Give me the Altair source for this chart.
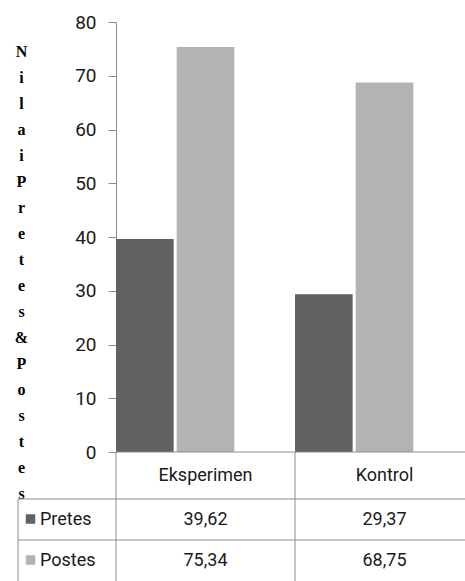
import altair as alt
import pandas as pd

categories = ["Eksperimen", "Kontrol"]
series = ["Pretes", "Postes"]
pretes = [39.62, 29.37]
postes = [75.34, 68.75]
colors = ["#616161", "#b3b3b3"]
y_ticks = [0, 10, 20, 30, 40, 50, 60, 70, 80]
y_title = list("NilaiPretes&Postes")

rows = []
for s, vals in zip(series, [pretes, postes]):
    for c, v in zip(categories, vals):
        rows.append({"cat": c, "series": s, "value": v,
                     "label": f"{v:.2f}".replace(".", ",")})
df = pd.DataFrame(rows)
cat_df = pd.DataFrame({"cat": categories})
one = pd.DataFrame({"a": [0]})

FONT = "Roboto"
FS = 18
LINE = "#8c8c8c"
TXT = "#1a1a1a"
W, H = 349, 430

xscale = alt.Scale(domain=categories, range=[0, 358], paddingInner=0, paddingOuter=0)
cscale = alt.Scale(domain=series, range=colors)

bars = alt.Chart(df).mark_bar().encode(
    x=alt.X("cat:N", scale=xscale, axis=None),
    xOffset=alt.XOffset("series:N", scale=alt.Scale(domain=series + [" "], paddingInner=0.05, paddingOuter=0)),
    y=alt.Y("value:Q", scale=alt.Scale(domain=[0, 80], nice=False),
            axis=alt.Axis(values=y_ticks, grid=False, domainColor=LINE, tickColor=LINE,
                          tickSize=8, labelFont=FONT, labelFontSize=19, labelColor=TXT,
                          labelPadding=12, title=y_title, titleAngle=0, titleAlign="center",
                          titleBaseline="top", titleX=-95, titleY=21,
                          titleFont="Liberation Serif", titleFontWeight="bold",
                          titleFontSize=16, titleLineHeight=26, titleColor="#000000")),
    color=alt.Color("series:N", scale=cscale, legend=None),
)

baseline = alt.Chart(one).mark_rule(color=LINE).encode(
    x=alt.value(0), x2=alt.value(W), y=alt.value(H))

vlines = alt.Chart(cat_df).mark_rule(color=LINE).encode(
    x=alt.X("cat:N", scale=xscale, bandPosition=0, axis=None),
    y=alt.value(H), y2=alt.value(H + 129))

hline1 = alt.Chart(one).mark_rule(color=LINE).encode(
    x=alt.value(-98), x2=alt.value(W), y=alt.value(477))
hline2 = alt.Chart(one).mark_rule(color=LINE).encode(
    x=alt.value(-98), x2=alt.value(W), y=alt.value(518))
lline = alt.Chart(one).mark_rule(color=LINE).encode(
    x=alt.value(-98), y=alt.value(477), y2=alt.value(H + 129))

header = alt.Chart(cat_df).mark_text(font=FONT, fontSize=FS, baseline="middle", color=TXT).encode(
    x=alt.X("cat:N", scale=xscale, axis=None), text="cat:N", y=alt.value(453.5))

row_y = {"Pretes": 498, "Postes": 539}
val_layers = []
leg_layers = []
for s in series:
    sub = df[df["series"] == s]
    val_layers.append(
        alt.Chart(sub).mark_text(font=FONT, fontSize=FS, baseline="middle", color=TXT).encode(
            x=alt.X("cat:N", scale=xscale, axis=None), text="label:N", y=alt.value(row_y[s])))
    sd = pd.DataFrame({"series": [s]})
    leg_layers.append(
        alt.Chart(sd).mark_square(size=90, opacity=1).encode(
            x=alt.value(-85.5), y=alt.value(row_y[s] - 1),
            color=alt.Color("series:N", scale=cscale, legend=None)))
    leg_layers.append(
        alt.Chart(sd).mark_text(font=FONT, fontSize=FS, baseline="middle", align="left", color=TXT).encode(
            x=alt.value(-76), y=alt.value(row_y[s]), text="series:N"))

chart = alt.layer(bars, baseline, vlines, hline1, hline2, lline, header, *val_layers, *leg_layers).properties(
    width=W, height=H,
    autosize=alt.AutoSizeParams(type="none"),
    padding={"left": 116, "top": 22, "right": 0, "bottom": 129},
    background="white",
).configure_view(stroke=None)

chart.save("out.html", embed_options={"renderer": "svg", "actions": False})
